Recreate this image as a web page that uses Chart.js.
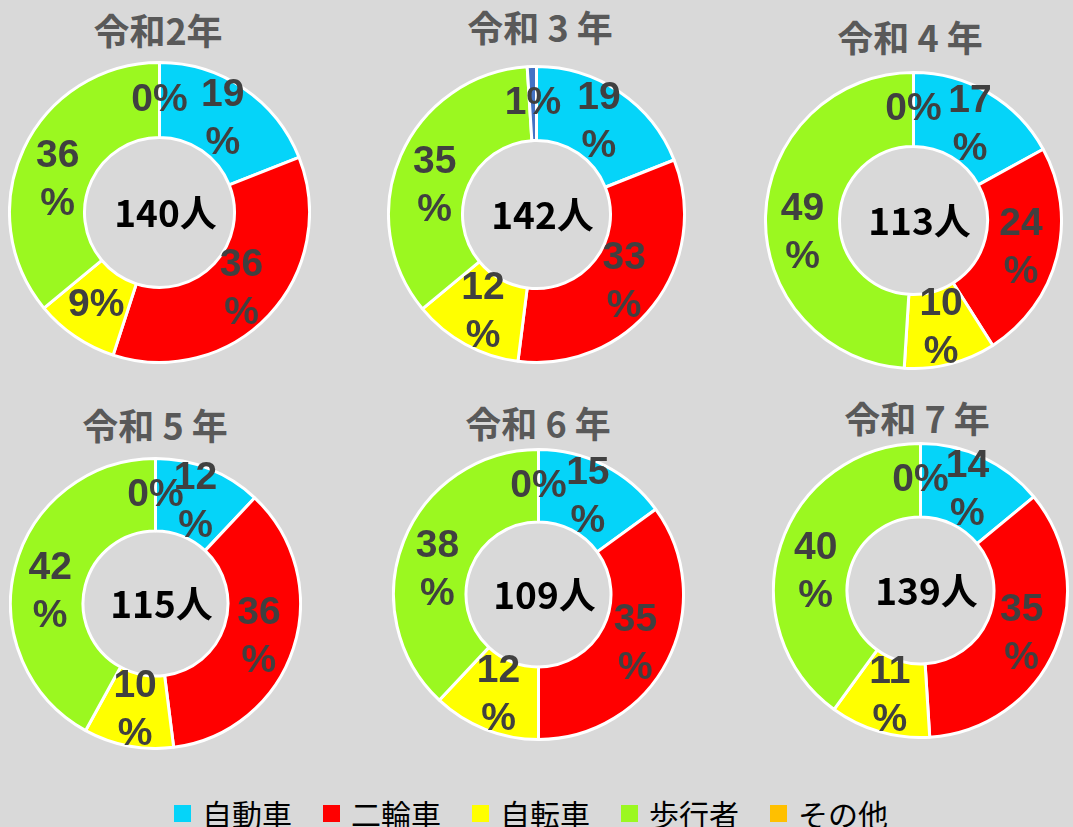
<!DOCTYPE html>
<html lang="ja">
<head>
<meta charset="utf-8">
<script src="https://cdn.jsdelivr.net/npm/chart.js@4/dist/chart.umd.min.js"></script>
<style>
    html, body {
        margin: 0;
        padding: 0;
        background: #d9d9d9;
    }
    #stage {
        position: relative;
        width: 1073px;
        height: 827px;
        background: #d9d9d9;
        overflow: hidden;
        font-family: "Noto Sans CJK JP", sans-serif;
    }
    .title {
        position: absolute;
        transform: translate(-50%, -50%);
        font-size: 36px;
        font-weight: bold;
        color: #595959;
        white-space: pre;
        line-height: 1;
    }
    canvas {
        position: absolute;
    }
    #legend {
        position: absolute;
        left: 174px;
        top: 796px;
        display: flex;
        align-items: center;
        gap: 31px;
        font-size: 30px;
        color: #000;
        line-height: 34px;
    }
    #legend .item {
        display: flex;
        align-items: center;
        gap: 11px;
    }
    #legend .box {
        width: 17px;
        height: 17px;
    }
</style>
</head>
<body>
<div id="stage">
    <div id="legend"></div>
</div>
<script>
    // categories / years / values (percent of total)
    const categories = ["自動車", "二輪車", "自転車", "歩行者", "その他"];
    const years = ["令和2年", "令和 3 年", "令和 4 年", "令和 5 年", "令和 6 年", "令和 7 年"];
    const totals = [140, 142, 113, 115, 109, 139];

    const r2 = [19, 36, 9, 36, 0];
    const r3 = [19, 33, 12, 35, 1];
    const r4 = [17, 24, 10, 49, 0];
    const r5 = [12, 36, 10, 42, 0];
    const r6 = [15, 35, 12, 38, 0];
    const r7 = [14, 35, 11, 40, 0];
    const yearValues = [r2, r3, r4, r5, r6, r7];

    const legendColors = ["#05D4F9", "#FF0000", "#FFFF00", "#9BF820", "#FFC000"];
    const sliceColors = ["#05D4F9", "#FF0000", "#FFFF00", "#9BF820", "#4472C4"];

    // layout: doughnut centre, outer radius, title centre
    const layout = [
        { cx: 159, cy: 212, r: 150, tx: 158, ty: 29 },
        { cx: 536, cy: 214, r: 148, tx: 540, ty: 26 },
        { cx: 913, cy: 220, r: 148, tx: 910, ty: 36 },
        { cx: 155, cy: 603, r: 145, tx: 155, ty: 424 },
        { cx: 538, cy: 594, r: 145, tx: 538, ty: 422 },
        { cx: 920, cy: 590, r: 147, tx: 917, ty: 417 },
    ];
    const BORDER = 3;
    // excel nudged the left-hand (歩行者) labels downward
    const labelShiftY = [0, 0, 0, 16, 0];
    const totalShiftX = 6;

    const sliceLabels = {
        id: "sliceLabels",
        afterDatasetsDraw(chart, args, opts) {
            const ctx = chart.ctx;
            const meta = chart.getDatasetMeta(0);
            const values = chart.data.datasets[0].data;
            ctx.save();
            ctx.fillStyle = "#404040";
            ctx.textAlign = "center";
            ctx.textBaseline = "middle";
            ctx.font = "bold 39px 'Liberation Sans', Arial, sans-serif";
            meta.data.forEach((arc, i) => {
                const p = arc.getProps(["x", "y", "startAngle", "endAngle", "innerRadius", "outerRadius"], true);
                const a = (p.startAngle + p.endAngle) / 2;
                const rr = (p.innerRadius + p.outerRadius) / 2;
                const x = p.x + Math.cos(a) * rr;
                const y = p.y + Math.sin(a) * rr + labelShiftY[i];
                const v = values[i];
                if (v >= 10) {
                    ctx.fillText(String(v), x, y - 24);
                    ctx.fillText("%", x, y + 24);
                } else {
                    ctx.fillText(v + "%", x, y);
                }
            });
            // total in the hole
            const c = meta.data[0];
            ctx.fillStyle = "#000";
            ctx.font = "bold 37px 'Noto Sans CJK JP', sans-serif";
            ctx.fillText(opts.total + "人", c.x + totalShiftX, c.y);
            ctx.restore();
        },
    };

    const stage = document.getElementById("stage");

    yearValues.forEach((values, k) => {
        const L = layout[k];
        const size = L.r * 2 + BORDER;

        const title = document.createElement("div");
        title.className = "title";
        title.textContent = years[k];
        title.style.left = L.tx + "px";
        title.style.top = L.ty + "px";
        stage.appendChild(title);

        const canvas = document.createElement("canvas");
        canvas.width = size;
        canvas.height = size;
        canvas.style.left = (L.cx - size / 2) + "px";
        canvas.style.top = (L.cy - size / 2) + "px";
        stage.appendChild(canvas);

        new Chart(canvas.getContext("2d"), {
            type: "doughnut",
            data: {
                labels: categories,
                datasets: [
                    {
                        data: values,
                        backgroundColor: sliceColors,
                        borderColor: "#ffffff",
                        borderWidth: BORDER,
                        hoverBorderWidth: BORDER,
                    },
                ],
            },
            options: {
                responsive: false,
                animation: false,
                cutout: "50%",
                layout: { padding: 0 },
                events: [],
                plugins: {
                    legend: { display: false },
                    tooltip: { enabled: false },
                    sliceLabels: { total: totals[k] },
                },
            },
            plugins: [sliceLabels],
        });
    });

    const legend = document.getElementById("legend");
    categories.forEach((name, i) => {
        const item = document.createElement("div");
        item.className = "item";
        const box = document.createElement("span");
        box.className = "box";
        box.style.background = legendColors[i];
        const txt = document.createElement("span");
        txt.textContent = name;
        item.appendChild(box);
        item.appendChild(txt);
        legend.appendChild(item);
    });
</script>
</body>
</html>
